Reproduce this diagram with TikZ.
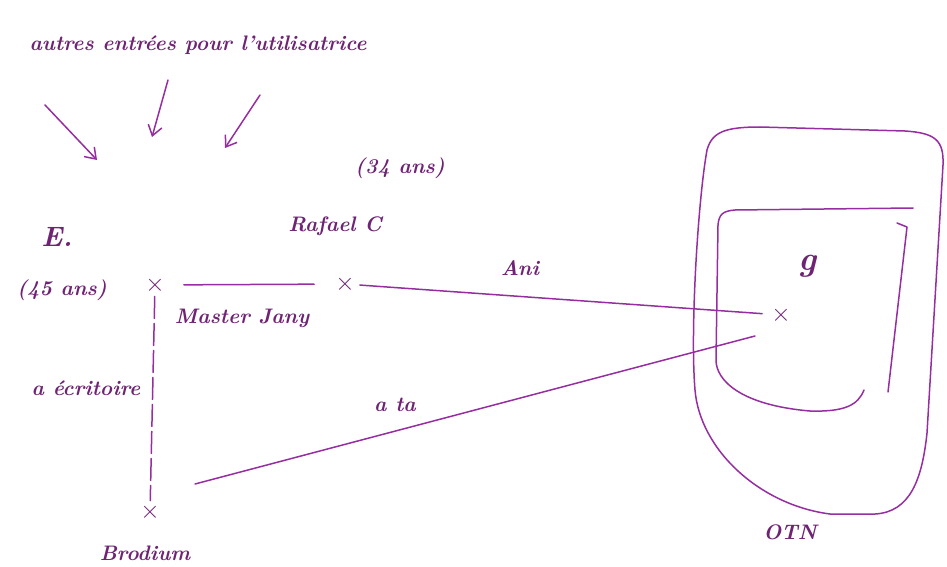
\documentclass[tikz,border=0pt]{standalone}
\usepackage{tikz}
\definecolor{inkpurple}{RGB}{150,45,160}
\definecolor{inkdark}{RGB}{110,35,115}
\usetikzlibrary{arrows.meta,positioning,calc}
\tikzset{
  hand/.style={draw=inkpurple,line width=1.5pt,line cap=round,line join=round},
  handarrow/.style={hand,-{Straight Barb[length=10pt,width=14pt]}},
  xmark/.style={text=inkdark,inner sep=1pt,font=\fontsize{28}{30}\selectfont},
  hw/.style={text=inkdark,font=\fontsize{21}{24}\selectfont\bfseries\itshape,inner sep=1pt}
}

\begin{document}
\begin{tikzpicture}[x=1pt,y=-1pt]
  \useasboundingbox (0,0) rectangle (947,567);
  % the persons (crosses)
  \node[xmark] (E) at (155,285) {$\times$};
  \node[xmark] (R) at (345,284) {$\times$};
  \node[xmark] (B) at (150,512) {$\times$};
  \node[xmark] (G) at (781,315) {$\times$};
  % texts
  \node[hw] (entrees) at (198,45) {autres entrées pour l'utilisatrice};
  \node[hw,font=\fontsize{28}{30}\selectfont\bfseries\itshape] (Elab) at (57,237) {E.};
  \node[hw] (Eage) at (62,290) {(45 ans)};
  \node[hw] (Rlab) at (335,226) {Rafael C};
  \node[hw] (Rage) at (400,168) {(34 ans)};
  \node[hw] (master) at (242,318) {Master Jany};
  \node[hw] (ecrit) at (86,388) {a écritoire};
  \node[hw] (ani) at (520,268) {Ani};
  \node[hw] (ata) at (395,405) {a ta};
  \node[hw] (brod) at (145,553) {Brodium};
  \node[hw,font=\fontsize{34}{36}\selectfont\bfseries\itshape] (glab) at (808,266) {g};
  \node[hw] (otn) at (790,532) {OTN};
  % arrows from the other entries
  \coordinate (a1) at (45,105);  \coordinate (b1) at (97,160);
  \coordinate (a2) at (168,80);  \coordinate (b2) at (152,137);
  \coordinate (a3) at (260,95);  \coordinate (b3) at (225,148);
  \draw[handarrow] (a1) -- (b1);
  \draw[handarrow] (a2) -- (b2);
  \draw[handarrow] (a3) -- (b3);
  % links
  \draw[hand,shorten <=18pt,shorten >=20pt] (E) -- (R);
  \draw[hand,dash pattern=on 22pt off 5pt,shorten <=2pt,shorten >=2pt] (E) -- (B);
  \draw[hand,shorten <=4pt,shorten >=8pt] (R) -- (G);
  \coordinate (tail) at (195,484);
  \coordinate (head) at (755,336);
  \draw[hand] (tail) -- (head);
  % the OTN outline and the g group
  \draw[hand] (707,150) .. controls (698,200) and (690,330) .. (695,390)
    .. controls (700,450) and (760,505) .. (830,514) -- (875,514)
    .. controls (910,512) and (922,480) .. (927,433) -- (943,165)
    .. controls (944,140) and (935,133) .. (905,131) -- (760,127)
    .. controls (725,127) and (712,132) .. (707,150) -- cycle;
  \draw[hand] (913,208) -- (735,210) .. controls (722,211) and (719,215) .. (718,225)
    -- (716,360) .. controls (716,380) and (740,405) .. (810,411)
    .. controls (845,412) and (858,405) .. (864,390);
  \draw[hand] (897,223) -- (907,227) -- (888,392);
\end{tikzpicture}
\end{document}
